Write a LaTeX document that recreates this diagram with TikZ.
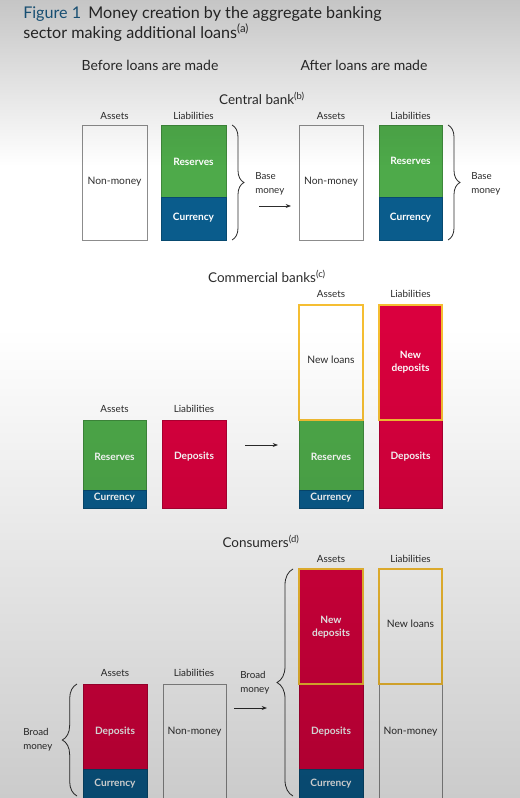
\documentclass[tikz,border=0pt]{standalone}
\usepackage{fontspec}
\setmainfont{Lato}
\usetikzlibrary{arrows.meta,decorations.pathreplacing,fit,fadings}
\definecolor{bgreen}{RGB}{78,170,74}
\definecolor{bblue}{RGB}{10,92,140}
\definecolor{bred}{RGB}{218,0,62}
\definecolor{byellow}{RGB}{245,190,50}
\definecolor{bgray}{RGB}{140,140,140}
\definecolor{txt}{RGB}{45,45,45}
\definecolor{figblue}{RGB}{30,100,145}
\begin{document}
\begin{tikzpicture}[x=0.75pt,y=-0.75pt,
  every node/.style={text=txt},
  hdr/.style={font=\fontsize{10.5}{12}\selectfont},
  sec/.style={font=\fontsize{10.1}{12}\selectfont},
  colhead/.style={font=\fontsize{7.4}{9}\selectfont},
  wbox/.style={inner sep=0pt, draw=bgray, fill=white, line width=0.6pt},
  cbox/.style={inner sep=0pt, draw=#1!80!black, fill=#1, line width=0.5pt},
  newbox/.style={draw=byellow, line width=1.3pt},
  wtxt/.style={inner sep=0pt, align=center, font=\fontsize{7.7}{10}\selectfont},
  ctxt/.style={inner sep=0pt, align=center, text=white, font=\fontsize{7.6}{10}\selectfont\bfseries},
  side/.style={align=left, anchor=west, inner sep=0pt, font=\fontsize{7.3}{10.5}\selectfont},
  arr/.style={-{Stealth[length=4pt,width=3pt]}, line width=0.6pt, draw=txt},
  brc/.style={decorate, decoration={brace, amplitude=#1}, line width=0.6pt, draw=txt}
]
\useasboundingbox (0,0) rectangle (520,798);
\fill[white] (0,0) rectangle (520,798);

% title
\node[anchor=west, inner sep=0pt, font=\fontsize{12.1}{14}\selectfont] (title1) at (23,14)
  {\textcolor{figblue}{Figure 1}\hspace{0.45em}Money creation by the aggregate banking};
\node[anchor=west, inner sep=0pt, font=\fontsize{12.1}{14}\selectfont] (title2) at (23,33)
  {sector making additional loans\textsuperscript{(a)}};
\node[hdr] (before) at (150,65) {Before loans are made};
\node[hdr] (after) at (364,65) {After loans are made};

% ---------------- Central bank
\node[sec] (cbT) at (262,98) {Central bank\textsuperscript{(b)}};
\node[colhead] (cbAh) at (114.5,116) {Assets};
\node[colhead] (cbLh) at (193.5,116) {Liabilities};
\node[colhead] (caAh) at (331,116) {Assets};
\node[colhead] (caLh) at (410.5,116) {Liabilities};
\node[wbox, fit={(82,125)(147,240)}] (cbA) {};
\node[cbox=bgreen, fit={(161,125)(226,197)}] (cbLr) {};
\node[cbox=bblue, fit={(161,197)(226,240)}] (cbLc) {};
\node[wtxt] (cbAt) at (114.5,182) {Non-money};
\node[ctxt] (cbLrt) at (193.5,161.5) {Reserves};
\node[ctxt] (cbLct) at (193.5,218) {Currency};
\coordinate (b1s) at (232,125);
\coordinate (b1e) at (232,240);
\draw[brc=9pt] (b1s) -- (b1e);
\node[side] (base1) at (255,184) {Base\\money};
\coordinate (a1s) at (259,206);
\coordinate (a1e) at (291,206);
\draw[arr] (a1s) -- (a1e);
\node[wbox, fit={(299,125)(363,240)}] (caA) {};
\node[cbox=bgreen, fit={(379,125)(442,197)}] (caLr) {};
\node[cbox=bblue, fit={(379,197)(442,240)}] (caLc) {};
\node[wtxt] (caAt) at (331,182) {Non-money};
\node[ctxt] (caLrt) at (410.5,161) {Reserves};
\node[ctxt] (caLct) at (410.5,218) {Currency};
\coordinate (b2s) at (448,125);
\coordinate (b2e) at (448,240);
\draw[brc=9pt] (b2s) -- (b2e);
\node[side] (base2) at (471,184) {Base\\money};

% ---------------- Commercial banks
\node[sec] (cmT) at (267,276) {Commercial banks\textsuperscript{(c)}};
\node[colhead] (mbAh) at (114.5,409) {Assets};
\node[colhead] (mbLh) at (194,409) {Liabilities};
\node[colhead] (maAh) at (331,294) {Assets};
\node[colhead] (maLh) at (410.5,294) {Liabilities};
\node[cbox=bgreen, fit={(83,420)(146,490)}] (mbAr) {};
\node[cbox=bblue, fit={(83,490)(146,508)}] (mbAc) {};
\node[cbox=bred, fit={(162,420)(226,508)}] (mbLd) {};
\node[ctxt] (mbArt) at (114.5,457) {Reserves};
\node[ctxt] (mbAct) at (114.5,497.5) {Currency};
\node[ctxt] (mbLdt) at (194,457) {Deposits};
\coordinate (a2s) at (245,445);
\coordinate (a2e) at (278,445);
\draw[arr] (a2s) -- (a2e);
\node[cbox=bgreen, fit={(299,420)(363,490)}] (maAr) {};
\node[cbox=bblue, fit={(299,490)(363,508)}] (maAc) {};
\node[cbox=bred, fit={(379,420)(442,508)}] (maLd) {};
\node[wbox, newbox, fit={(299,305)(363,420)}] (maAn) {};
\node[cbox=bred, newbox, fit={(379,305)(442,420)}] (maLn) {};
\node[ctxt] (maArt) at (331,457) {Reserves};
\node[ctxt] (maAct) at (331,497.5) {Currency};
\node[ctxt] (maLdt) at (410.5,457) {Deposits};
\node[wtxt] (maAnt) at (331,360) {New loans};
\node[ctxt] (maLnt) at (410.5,362.5) {New\\deposits};

% ---------------- Consumers
\node[sec] (csT) at (261,541) {Consumers\textsuperscript{(d)}};
\node[colhead] (sbAh) at (115,673) {Assets};
\node[colhead] (sbLh) at (194,673) {Liabilities};
\node[colhead] (saAh) at (331,559) {Assets};
\node[colhead] (saLh) at (410.5,559) {Liabilities};
\node[cbox=bred, fit={(83,684)(147,769)}] (sbAd) {};
\node[cbox=bblue, fit={(83,769)(147,800)}] (sbAc) {};
\node[wbox, fit={(163,684)(226,800)}] (sbLn) {};
\node[ctxt] (sbAdt) at (115,732) {Deposits};
\node[ctxt] (sbAct) at (115,783.5) {Currency};
\node[wtxt] (sbLnt) at (194.5,732) {Non-money};
\coordinate (b3s) at (77,796);
\coordinate (b3e) at (77,684);
\draw[brc=11pt] (b3s) -- (b3e);
\node[side] (broad1) at (23,740) {Broad\\money};
\coordinate (a3s) at (234,708);
\coordinate (a3e) at (267,708);
\draw[arr] (a3s) -- (a3e);
\node[side] (broad2) at (240,683) {Broad\\money};
\coordinate (b4s) at (293,796);
\coordinate (b4e) at (293,569);
\draw[brc=12pt] (b4s) -- (b4e);
\node[cbox=bred, fit={(299,684)(363,769)}] (saAd) {};
\node[cbox=bblue, fit={(299,769)(363,800)}] (saAc) {};
\node[wbox, fit={(379,684)(442,800)}] (saLn) {};
\node[cbox=bred, newbox, fit={(299,569)(363,684)}] (saAn) {};
\node[wbox, newbox, fit={(379,569)(442,684)}] (saLl) {};
\node[ctxt] (saAdt) at (331,732) {Deposits};
\node[ctxt] (saAct) at (331,783.5) {Currency};
\node[wtxt] (saLnt) at (410.5,732) {Non-money};
\node[ctxt] (saAnt) at (331,627) {New\\deposits};
\node[wtxt] (saLlt) at (410.5,624) {New loans};

% ---------------- screen shading
\fill[black, opacity=0.3, path fading=south] (0,-55) rectangle (520,165);
\fill[black, opacity=0.27, path fading=north] (0,330) rectangle (520,950);
\end{tikzpicture}
\end{document}
